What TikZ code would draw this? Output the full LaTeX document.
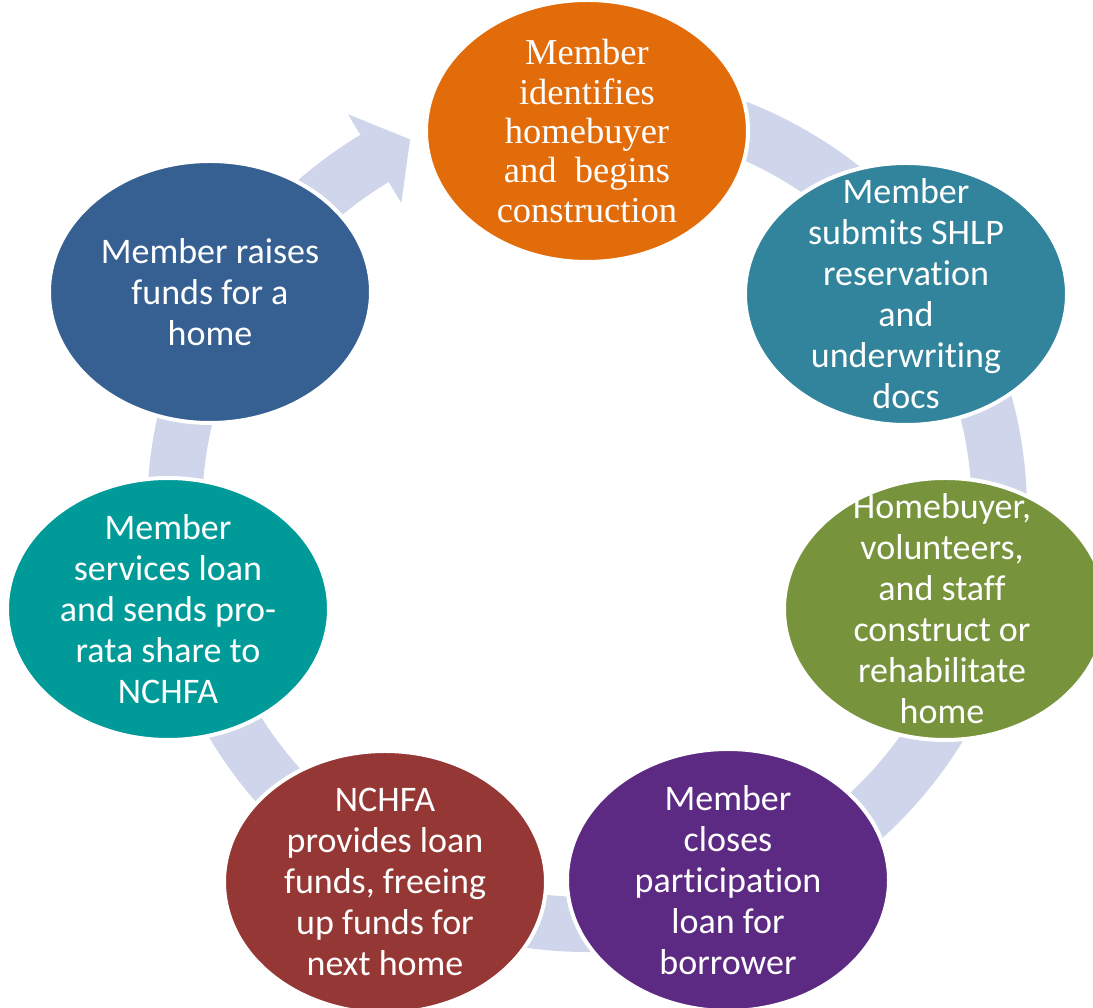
\documentclass[tikz,border=0pt]{standalone}
\usepackage{fontspec}
\setmainfont{Carlito}[RawFeature={-liga}]
\newfontfamily\serifx{Liberation Serif}
\usetikzlibrary{shapes.geometric}
\definecolor{bandc}{HTML}{CFD5EA}
\definecolor{orangec}{HTML}{E36C0A}
\definecolor{tealbluec}{HTML}{31849B}
\definecolor{olivec}{HTML}{77933C}
\definecolor{purplec}{HTML}{5C2A82}
\definecolor{redc}{HTML}{953735}
\definecolor{tealc}{HTML}{009A98}
\definecolor{darkbluec}{HTML}{376092}
\begin{document}
\begin{tikzpicture}[x=1pt,y=1pt,
  blob/.style={ellipse, draw=white, line width=4pt, minimum width=322pt, minimum height=262pt, inner sep=0pt},
  lbl/.style={text=white, align=center, font=\fontsize{36}{41}\selectfont, inner sep=0pt},
  lblserif/.style={text=white, align=center, font=\serifx\fontsize{36.5}{39.3}\selectfont, inner sep=0pt}]
\useasboundingbox (0,0) rectangle (1093,1008);
\clip (0,0) rectangle (1093,1008);
\begin{scope}[shift={(587,496)}]
  \draw[bandc, line width=55pt] (85:412.5pt) arc[start angle=85, end angle=-239.3, radius=412.5pt];
  \fill[bandc] (121:464pt) -- (115.4:412.5pt) -- (121:360.5pt) -- cycle;
\end{scope}
\node[blob, fill=orangec]   (n1) at (587,877) {};
\node[blob, fill=tealbluec] (n2) at (906,714) {};
\node[blob, fill=olivec]    (n3) at (945,399) {};
\node[blob, fill=purplec]   (n4) at (728,128) {};
\node[blob, fill=redc]      (n5) at (385,126) {};
\node[blob, fill=tealc]     (n6) at (168,399) {};
\node[blob, fill=darkbluec] (n7) at (210,716) {};
\node[lblserif] (t1) at (n1.center) {Member\\identifies\\homebuyer\\and\ \ begins\\construction};
\node[lbl] (t2) at (n2.center) {Member\\submits SHLP\\reservation\\and\\underwriting\\docs};
\node[lbl] (t3) at ([xshift=-3pt]n3.center) {Homebuyer,\\volunteers,\\and staff\\construct or\\rehabilitate\\home};
\node[lbl] (t4) at (n4.center) {Member\\closes\\participation\\loan for\\borrower};
\node[lbl] (t5) at (n5.center) {NCHFA\\provides loan\\funds, freeing\\up funds for\\next home};
\node[lbl] (t6) at (n6.center) {Member\\services loan\\and sends pro-\\rata share to\\NCHFA};
\node[lbl] (t7) at (n7.center) {Member raises\\funds for a\\home};
\end{tikzpicture}
\end{document}
